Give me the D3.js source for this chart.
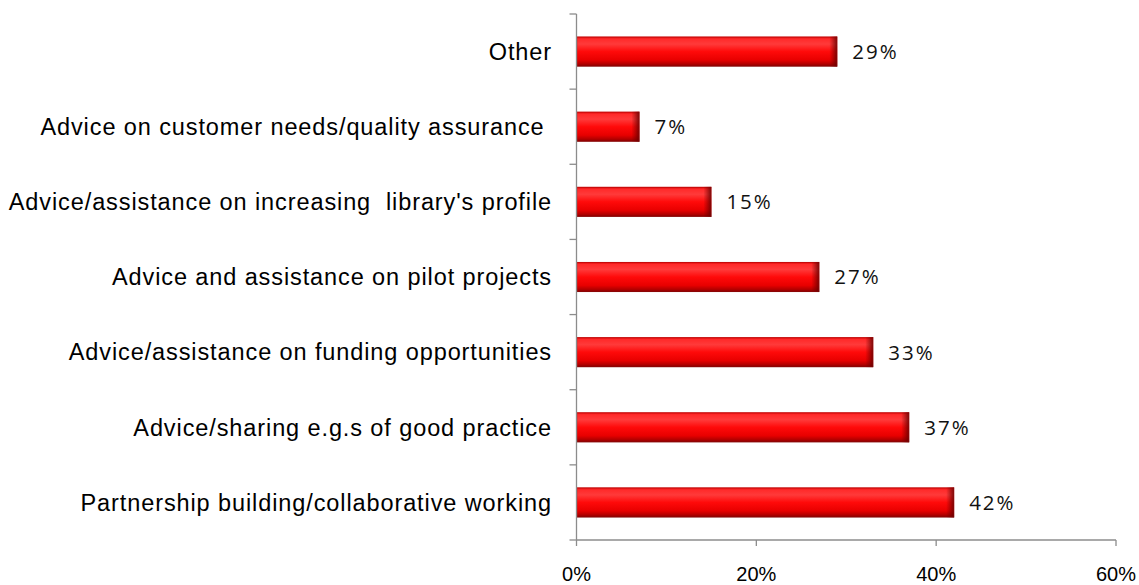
<!DOCTYPE html>
<html>
<head>
<meta charset="utf-8">
<script src="https://cdn.jsdelivr.net/npm/d3@7"></script>
<style>
  html, body { margin: 0; padding: 0; background: #fff; }
  svg { display: block; }
</style>
</head>
<body>
<svg id="chart" width="1139" height="585"></svg>
<script>
// Categories listed top to bottom
const categories = [
  "Other",
  "Advice on customer needs/quality assurance ",
  "Advice/assistance on increasing  library's profile",
  "Advice and assistance on pilot projects",
  "Advice/assistance on funding opportunities",
  "Advice/sharing e.g.s of good practice",
  "Partnership building/collaborative working"
];
const values = [29, 7, 15, 27, 33, 37, 42];
const tickValues = [0, 20, 40, 60];

const svg = d3.select("#chart");
const plotLeft = 576.5, plotRight = 1116, plotTop = 14, plotBottom = 540;

const x = d3.scaleLinear().domain([0, 60]).range([plotLeft, plotRight]);
const y = d3.scaleBand().domain(categories).range([plotTop, plotBottom]).paddingInner(0.6).paddingOuter(0.3);

const defs = svg.append("defs");
const vg = defs.append("linearGradient").attr("id", "barV").attr("x1", 0).attr("y1", 0).attr("x2", 0).attr("y2", 1);
[[0, "#d40000"], [0.08, "#ff2a2a"], [0.25, "#ff3a3a"], [0.5, "#ff0a0a"], [0.78, "#e80000"], [0.92, "#b00000"], [1, "#7a0000"]]
  .forEach(([o, c]) => vg.append("stop").attr("offset", o).attr("stop-color", c));
const hg = defs.append("linearGradient").attr("id", "barEnd").attr("x1", 0).attr("y1", 0).attr("x2", 1).attr("y2", 0);
[[0, "#700000", 0], [1, "#600000", 0.85]]
  .forEach(([o, c, a]) => hg.append("stop").attr("offset", o).attr("stop-color", c).attr("stop-opacity", a));

const axisColor = "#8c8c8c";

// Bars
const bars = svg.append("g");
const bh = y.bandwidth();
categories.forEach((cat, i) => {
  const x0 = x(0), x1 = x(values[i]), y0 = y(cat);
  bars.append("rect").attr("x", x0).attr("y", y0).attr("width", x1 - x0).attr("height", bh)
    .attr("fill", "url(#barV)");
  const endW = Math.min(8, (x1 - x0) / 3);
  bars.append("rect").attr("x", x1 - endW).attr("y", y0).attr("width", endW).attr("height", bh)
    .attr("fill", "url(#barEnd)");
  bars.append("rect").attr("x", x0 + 0.5).attr("y", y0 + 0.5).attr("width", x1 - x0 - 1).attr("height", bh - 1)
    .attr("fill", "none").attr("stroke", "#9a1010").attr("stroke-opacity", 0.35).attr("stroke-width", 1);
});

// Value labels
svg.append("g").selectAll("text").data(categories).join("text")
  .attr("x", (d, i) => x(values[i]) + 15)
  .attr("y", d => y(d) + bh / 2)
  .attr("dy", "0.36em")
  .attr("font-family", "'Open Sans', sans-serif")
  .attr("font-size", 20.5)
  .attr("letter-spacing", 2)
  .attr("fill", "#111")
  .text((d, i) => values[i] + "%");

// Y axis (category boundaries as ticks)
const yAxis = svg.append("g");
yAxis.append("line").attr("x1", plotLeft).attr("x2", plotLeft).attr("y1", plotTop).attr("y2", plotBottom)
  .attr("stroke", axisColor).attr("stroke-width", 1.3);
d3.range(categories.length + 1).forEach(k => {
  const yy = plotTop + k * (plotBottom - plotTop) / categories.length;
  yAxis.append("line").attr("x1", plotLeft - 7).attr("x2", plotLeft).attr("y1", yy).attr("y2", yy)
    .attr("stroke", axisColor).attr("stroke-width", 1.3);
});
yAxis.selectAll("text").data(categories).join("text")
  .attr("x", 552)
  .attr("y", d => y(d) + bh / 2)
  .attr("dy", "0.35em")
  .attr("text-anchor", "end")
  .attr("font-family", "'Liberation Sans', Arial, sans-serif")
  .attr("font-size", 23.5)
  .attr("letter-spacing", 0.9)
  .attr("fill", "#000")
  .style("white-space", "pre")
  .text(d => d);

// X axis
const xAxis = svg.append("g");
xAxis.append("line").attr("x1", plotLeft).attr("x2", plotRight).attr("y1", plotBottom).attr("y2", plotBottom)
  .attr("stroke", axisColor).attr("stroke-width", 1.3);
xAxis.selectAll("line.tick").data(tickValues).join("line").attr("class", "tick")
  .attr("x1", d => x(d)).attr("x2", d => x(d)).attr("y1", plotBottom).attr("y2", plotBottom + 6)
  .attr("stroke", axisColor).attr("stroke-width", 1.3);
xAxis.selectAll("text").data(tickValues).join("text")
  .attr("x", d => x(d))
  .attr("y", 581)
  .attr("text-anchor", "middle")
  .attr("font-family", "'Liberation Sans', Arial, sans-serif")
  .attr("font-size", 20)
  .attr("fill", "#000")
  .text(d => d + "%");
</script>
</body>
</html>
